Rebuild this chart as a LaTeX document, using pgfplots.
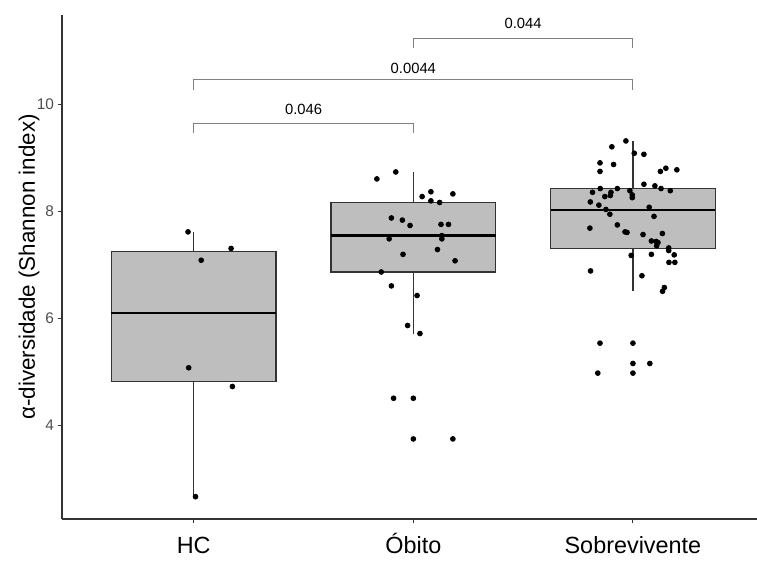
\documentclass[border=0pt]{standalone}
\usepackage{fontspec}
\setmainfont{Liberation Sans}
\usepackage{pgfplots}
\pgfplotsset{compat=1.18}
\usetikzlibrary{calc}
\definecolor{boxgray}{RGB}{190,190,190}
\definecolor{axgray}{RGB}{51,51,51}
\definecolor{tickgray}{RGB}{77,77,77}
\definecolor{brgray}{RGB}{128,128,128}

\pgfplotstableread{
x y
0.974 7.61
1.17 7.30
1.034 7.08
0.977 5.07
1.176 4.72
1.008 2.66
}\hc

\pgfplotstableread{
x y
1.834 8.60
1.92 8.73
2.04 8.27
2.08 8.36
2.18 8.32
2.08 8.19
2.12 8.16
1.90 7.87
1.95 7.83
1.985 7.73
2.126 7.75
2.16 7.75
1.89 7.48
2.13 7.54
2.13 7.48
1.953 7.19
2.11 7.28
2.19 7.07
1.854 6.86
1.90 6.60
2.017 6.42
1.974 5.86
2.03 5.71
1.91 4.50
2.00 4.50
2.00 3.74
2.18 3.74
}\obito

\pgfplotstableread{
x y
2.968 9.31
2.904 9.20
3.006 9.08
3.05 9.06
2.85 8.90
2.912 8.87
2.85 8.74
3.125 8.74
3.15 8.80
3.20 8.77
3.05 8.50
3.10 8.47
3.128 8.42
3.17 8.38
2.851 8.42
2.816 8.35
2.929 8.42
2.90 8.35
2.897 8.29
2.872 8.27
2.986 8.38
2.997 8.30
2.997 8.25
2.806 8.17
2.845 8.11
3.074 8.07
2.877 8.03
2.895 7.94
3.096 7.90
2.804 7.68
2.929 7.74
2.964 7.61
2.973 7.60
3.046 7.56
3.134 7.58
3.084 7.44
3.106 7.43
3.114 7.41
3.108 7.35
3.163 7.31
3.163 7.26
3.188 7.18
2.992 7.17
3.084 7.19
3.164 7.04
3.191 7.04
2.807 6.88
3.041 6.79
3.143 6.57
3.135 6.50
2.85 5.53
3.00 5.53
3.00 5.15
3.077 5.15
2.84 4.97
3.00 4.97
}\sobre

\begin{document}
\begin{tikzpicture}
\begin{axis}[name=ax, scale only axis, width=347.5pt, height=252pt,
 xmin=0.4, xmax=3.565, ymin=2.243, ymax=11.664,
 axis lines=left, axis line style={-, axgray, line width=0.6pt},
 xtick={1,2,3}, xticklabels={HC,Óbito,Sobrevivente},
 ytick={4,6,8,10},
 tick align=outside, major tick length=2pt, tick style={axgray, line width=0.5pt},
 xticklabel style={font=\fontsize{11.7}{13}\selectfont, black, anchor=base, yshift=-15pt},
 yticklabel style={font=\fontsize{7.7}{8}\selectfont, tickgray, xshift=1.5pt},
 /pgf/number format/assume math mode=true,
 ylabel={α-diversidade (Shannon index)},
 ylabel style={font=\fontsize{11.2}{13}\selectfont, at={(rel axis cs:0,0.5)}, anchor=center, yshift=16.5pt},
 clip=false,
]
% whiskers
\addplot[axgray, line width=0.6pt, no marks] coordinates {(1,7.25) (1,7.60)};
\addplot[axgray, line width=0.6pt, no marks] coordinates {(1,4.81) (1,2.66)};
\addplot[axgray, line width=0.6pt, no marks] coordinates {(2,8.16) (2,8.72)};
\addplot[axgray, line width=0.6pt, no marks] coordinates {(2,6.86) (2,5.71)};
\addplot[axgray, line width=0.6pt, no marks] coordinates {(3,8.42) (3,9.31)};
\addplot[axgray, line width=0.6pt, no marks] coordinates {(3,7.30) (3,6.51)};
% boxes
\addplot[fill=boxgray, draw=axgray, line width=0.6pt, no marks] coordinates {(0.625,4.81) (1.375,4.81) (1.375,7.25) (0.625,7.25)} -- cycle;
\addplot[fill=boxgray, draw=axgray, line width=0.6pt, no marks] coordinates {(1.625,6.86) (2.375,6.86) (2.375,8.16) (1.625,8.16)} -- cycle;
\addplot[fill=boxgray, draw=axgray, line width=0.6pt, no marks] coordinates {(2.625,7.30) (3.375,7.30) (3.375,8.42) (2.625,8.42)} -- cycle;
% medians
\addplot[black, line width=1.3pt, no marks] coordinates {(0.625,6.09) (1.375,6.09)};
\addplot[black, line width=1.3pt, no marks] coordinates {(1.625,7.54) (2.375,7.54)};
\addplot[black, line width=1.3pt, no marks] coordinates {(2.625,8.02) (3.375,8.02)};

\addplot[only marks, mark=*, mark size=1.2pt, black] table[x=x,y=y] {\hc};
\addplot[only marks, mark=*, mark size=1.2pt, black] table[x=x,y=y] {\obito};
\addplot[only marks, mark=*, mark size=1.2pt, black] table[x=x,y=y] {\sobre};

\addplot[brgray, line width=0.5pt, no marks] coordinates {(1,9.45) (1,9.64) (2,9.64) (2,9.45)};
\addplot[brgray, line width=0.5pt, no marks] coordinates {(1,10.26) (1,10.45) (3,10.45) (3,10.26)};
\addplot[brgray, line width=0.5pt, no marks] coordinates {(2,11.04) (2,11.23) (3,11.23) (3,11.04)};
\node[font=\fontsize{7.4}{8}\selectfont] at (axis cs:1.5,9.90) {0.046};
\node[font=\fontsize{7.4}{8}\selectfont] at (axis cs:2,10.67) {0.0044};
\node[font=\fontsize{7.4}{8}\selectfont] at (axis cs:2.5,11.50) {0.044};
\end{axis}
\pgfresetboundingbox
\path ($(ax.south west)+(-31pt,-22.5pt)$) rectangle ($(ax.north east)+(0pt,7.5pt)$);
\end{tikzpicture}
\end{document}
